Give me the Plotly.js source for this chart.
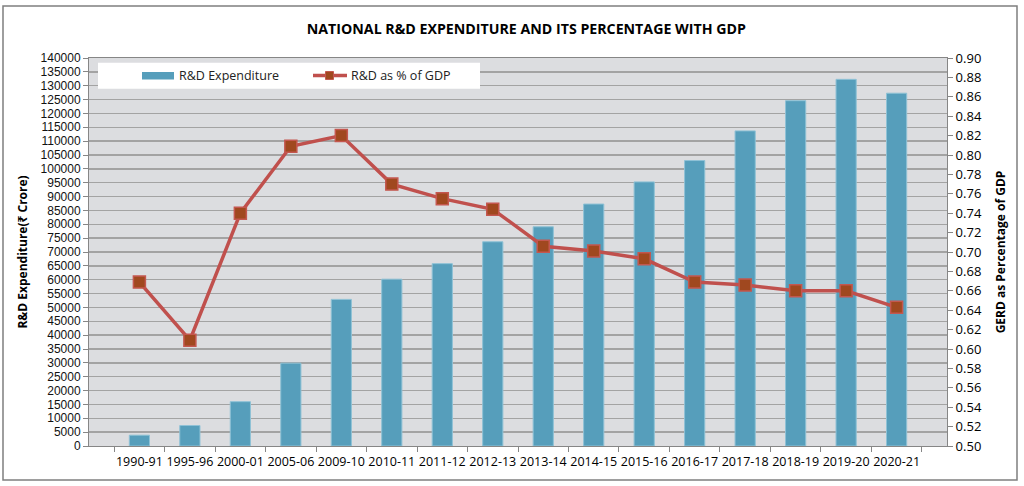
<!DOCTYPE html>
<html>
<head>
<meta charset="utf-8">
<script src="https://cdn.plot.ly/plotly-3.0.1.min.js"></script>
<style>body{margin:0;background:#fff}#chart{width:1024px;height:486px}</style>
</head>
<body>
<div id="chart"></div>
<script>
const years = ["1990-91","1995-96","2000-01","2005-06","2009-10","2010-11","2011-12","2012-13","2013-14","2014-15","2015-16","2016-17","2017-18","2018-19","2019-20","2020-21"];
const expenditure = [3900,7400,16000,29900,52900,60200,65800,73700,79100,87300,95300,103000,113700,124600,132300,127300];
const gdpShare = [0.669,0.609,0.740,0.809,0.820,0.770,0.755,0.744,0.706,0.701,0.693,0.669,0.666,0.660,0.660,0.643];

const barName = "R&D Expenditure";
const lineName = "R&D as % of GDP";
const titleText = "NATIONAL R&D EXPENDITURE AND ITS PERCENTAGE WITH GDP";
const yTitle = "R&D Expenditure(₹ Crore)";
const y2Title = "GERD as Percentage of GDP";

const FONT = "'Open Sans', 'Noto Sans', 'DejaVu Sans', sans-serif";
const TICKFONT = "'Liberation Sans', 'DejaVu Sans', sans-serif";
const L = 89, R = 947, T = 58, B = 446;
const px = v => (v - L) / (R - L);
const py = v => (B - v) / (B - T);

const traces = [
  {type:"bar", x:years, y:expenditure, name:barName, yaxis:"y",
   marker:{color:"#569ebb", line:{color:"#8fc2d6", width:1}}, showlegend:false},
  {type:"scatter", mode:"lines+markers", x:years, y:gdpShare, name:lineName, yaxis:"y2",
   line:{color:"#c0504d", width:3.5},
   marker:{symbol:"square", size:12, color:"#a0481f", line:{color:"#c4574f", width:1.5}}, showlegend:false}
];

const layout = {
  width:1024, height:486,
  margin:{l:L, r:1024-R, t:T, b:486-B},
  paper_bgcolor:"#ffffff", plot_bgcolor:"#dcdde0",
  font:{family:FONT, size:13, color:"#000"},
  title:{text:"<b>"+titleText+"</b>", x:0.514, xanchor:"center", y:0.94, yanchor:"middle", font:{size:14.2, family:FONT}},
  bargap:0.6,
  xaxis:{type:"category", tickson:"boundaries", ticks:"outside", ticklen:5, tickcolor:"#868686",
         tickangle:0, automargin:false, ticklabelstandoff:4,
         showline:true, linecolor:"#868686", linewidth:1, mirror:true, showgrid:false,
         tickfont:{size:12.5}},
  yaxis:{range:[0,140000], dtick:5000, tickformat:"d", ticks:"outside", ticklen:5, tickcolor:"#868686",
         showline:true, linecolor:"#868686", linewidth:1, showgrid:true, gridcolor:"#a3a3a3", gridwidth:1.3,
         zeroline:false, tickfont:{size:12, family:TICKFONT, color:"#111"}, automargin:false,
         title:{text:"<b>"+yTitle+"</b>", standoff:10, font:{size:12}}},
  yaxis2:{range:[0.5,0.9], dtick:0.02, tickformat:".2f", overlaying:"y", side:"right",
          ticks:"outside", ticklen:5, tickcolor:"#868686", showline:true, linecolor:"#868686", linewidth:1,
          showgrid:false, zeroline:false, tickfont:{size:13}, automargin:false,
          title:{text:"<b>"+y2Title+"</b>", standoff:15, font:{size:12}}},
  shapes:[
    {type:"rect", xref:"paper", yref:"paper", x0:px(3), x1:px(1017), y0:py(480), y1:py(6),
     line:{color:"#7f7f7f", width:1.5}, fillcolor:"rgba(0,0,0,0)", layer:"below"},
    {type:"rect", xref:"paper", yref:"paper", x0:px(98), x1:px(480), y0:py(88.7), y1:py(62.7),
     line:{width:0}, fillcolor:"#ffffff"},
    {type:"rect", xref:"paper", yref:"paper", x0:px(142), x1:px(174), y0:py(79.5), y1:py(72),
     line:{width:0}, fillcolor:"#569ebb"},
    {type:"line", xref:"paper", yref:"paper", x0:px(313), x1:px(347), y0:py(75.5), y1:py(75.5),
     line:{color:"#c0504d", width:3.5}},
    {type:"rect", xref:"paper", yref:"paper", x0:px(325.5), x1:px(333.5), y0:py(79.5), y1:py(71.5),
     line:{color:"#c4574f", width:1}, fillcolor:"#a0481f"}
  ],
  annotations:[
    {xref:"paper", yref:"paper", x:px(177), y:py(75.5), xanchor:"left", yanchor:"middle",
     text:barName, showarrow:false, font:{size:12.5, color:"#222"}},
    {xref:"paper", yref:"paper", x:px(349), y:py(75.5), xanchor:"left", yanchor:"middle",
     text:lineName, showarrow:false, font:{size:12.5, color:"#222"}}
  ]
};

Plotly.newPlot("chart", traces, layout, {displayModeBar:false, staticPlot:true});
</script>
</body>
</html>
